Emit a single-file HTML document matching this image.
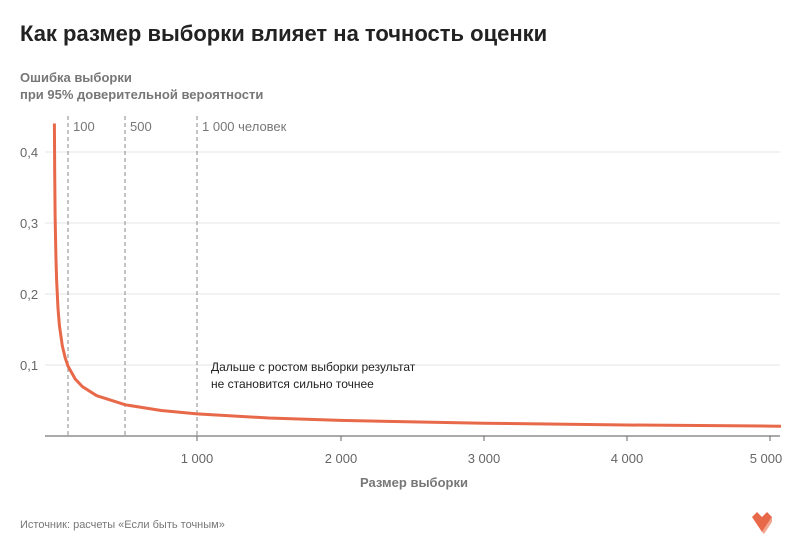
<!DOCTYPE html>
<html><head><meta charset="utf-8"><style>
body{margin:0;background:#fff;}
svg{display:block;font-family:"Liberation Sans","DejaVu Sans",sans-serif;}
</style></head><body>
<svg width="800" height="550" viewBox="0 0 800 550" xmlns="http://www.w3.org/2000/svg">
<text x="20" y="41" font-size="22" font-weight="bold" fill="#222">Как размер выборки влияет на точность оценки</text>
<text x="20" y="82" font-size="13" font-weight="bold" fill="#777">Ошибка выборки</text>
<text x="20" y="99" font-size="13" font-weight="bold" fill="#777">при 95% доверительной вероятности</text>
<g stroke="#e6e6e6" stroke-width="1">
<line x1="45" y1="152" x2="780" y2="152"/>
<line x1="45" y1="223" x2="780" y2="223"/>
<line x1="45" y1="294" x2="780" y2="294"/>
<line x1="45" y1="365" x2="780" y2="365"/>
</g>
<line x1="45" y1="436" x2="780" y2="436" stroke="#555" stroke-width="1"/>
<g fill="#666" font-size="13">
<text x="20" y="157">0,4</text><text x="20" y="228">0,3</text><text x="20" y="299">0,2</text><text x="20" y="370">0,1</text>
</g>
<g fill="#666" font-size="13" text-anchor="middle">
<text x="197" y="463">1 000</text><text x="341" y="463">2 000</text><text x="484" y="463">3 000</text><text x="627" y="463">4 000</text><text x="766" y="463">5 000</text>
</g>
<g stroke="#666" stroke-width="1">
<line x1="197" y1="436" x2="197" y2="441"/><line x1="341" y1="436" x2="341" y2="441"/><line x1="484" y1="436" x2="484" y2="441"/><line x1="627" y1="436" x2="627" y2="441"/><line x1="770" y1="436" x2="770" y2="441"/>
</g>
<text x="414" y="487" font-size="13" font-weight="bold" fill="#777" text-anchor="middle">Размер выборки</text>
<g stroke="#888" stroke-width="1" stroke-dasharray="4,3">
<line x1="68" y1="116" x2="68" y2="436"/><line x1="125" y1="116" x2="125" y2="436"/><line x1="197" y1="116" x2="197" y2="436"/>
</g>
<g fill="#777" font-size="13">
<text x="73" y="131">100</text><text x="130" y="131">500</text><text x="202" y="131">1 000 человек</text>
</g>
<path d="M54.4,123.5 L54.7,171.9 L55.1,215.1 L55.9,255.6 L56.6,279.8 L58,308.4 L59.4,325.5 L62.3,345.8 L65.2,357.9 L68,366.1 L75.2,379 L82.4,386.6 L96.7,395.7 L125.4,404.8 L161.2,410.5 L197,413.9 L268.7,418 L340.3,420.4 L483.6,423.2 L626.9,425 L770.2,426.1 L781,426.2" fill="none" stroke="#e8694a" stroke-width="3" stroke-linejoin="round"/>
<text x="211" y="371" font-size="12" fill="#222">Дальше с ростом выборки результат</text>
<text x="211" y="388" font-size="12" fill="#222">не становится сильно точнее</text>
<text x="20" y="528" font-size="11" fill="#777">Источник: расчеты «Если быть точным»</text>
<g transform="translate(752,512)">
<polygon points="0,5 5,0 10,5 15,0 20,5 10,20" fill="#e8694a"/>
<polygon points="10,20 20,5 20,10 12,22" fill="#f3a58f"/>
</g>
</svg>
</body></html>
